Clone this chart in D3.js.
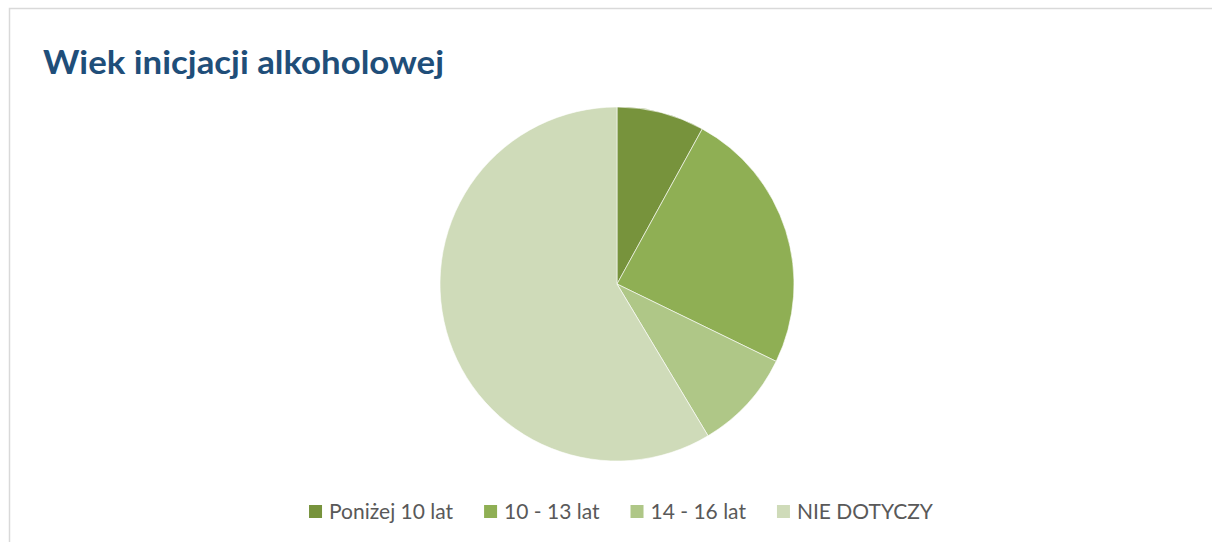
<!DOCTYPE html>
<html>
<head>
<meta charset="utf-8">
<script src="https://d3js.org/d3.v7.min.js"></script>
<style>
  body { margin: 0; background: #fff; }
  svg { display: block; }
</style>
</head>
<body>
<svg id="chart" width="1212" height="542"></svg>
<script>
// data (percent)
const categories = ["Poniżej 10 lat", "10 - 13 lat", "14 - 16 lat", "NIE DOTYCZY"];
const values = [8, 24.2, 9.2, 58.6];
const colors = ["#77933C", "#8FAF54", "#AFC787", "#CFDBB9"];
const title = "Wiek inicjacji alkoholowej";

const svg = d3.select("#chart");
const width = +svg.attr("width");
const height = +svg.attr("height");

// chart area frame (only top and left edges are inside the shot)
svg.append("path")
    .attr("d", "M9.5," + height + "V8.5H" + width)
    .attr("fill", "none")
    .attr("stroke", "#D9D9D9")
    .attr("stroke-width", 1.5);

// title
svg.append("text")
    .attr("x", 43)
    .attr("y", 74)
    .attr("fill", "#1F4E79")
    .attr("textLength", 401)
    .attr("lengthAdjust", "spacingAndGlyphs")
    .style("font-family", "Lato, 'Open Sans', sans-serif")
    .style("font-weight", "bold")
    .style("font-size", "33px")
    .text(title);

// pie
const cx = 617, cy = 284, r = 177;
const pie = d3.pie().sort(null).value(d => d);
const arc = d3.arc().innerRadius(0).outerRadius(r);

svg.append("g")
    .attr("transform", "translate(" + cx + "," + cy + ")")
    .selectAll("path")
    .data(pie(values))
    .enter().append("path")
    .attr("d", arc)
    .attr("fill", (d, i) => colors[i])
    .attr("stroke", "#fff")
    .attr("stroke-width", 0.6);

// legend
const legend = svg.append("g");
const fontSize = 21, box = 13, gapText = 7, gapItem = 31;
const items = legend.selectAll("g.item")
    .data(categories)
    .enter().append("g")
    .attr("class", "item");

items.append("rect")
    .attr("width", box)
    .attr("height", box)
    .attr("y", -box - 1)
    .attr("fill", (d, i) => colors[i]);

items.append("text")
    .attr("x", box + gapText)
    .attr("fill", "#595959")
    .style("font-family", "Lato, 'Open Sans', sans-serif")
    .style("font-size", fontSize + "px")
    .text(d => d);

let xPos = 0;
items.each(function() {
    const g = d3.select(this);
    const w = box + gapText + g.select("text").node().getComputedTextLength();
    g.attr("transform", "translate(" + xPos + ",0)");
    xPos += w + gapItem;
});
const total = xPos - gapItem;
legend.attr("transform", "translate(" + (621 - total / 2) + ",519)");
</script>
</body>
</html>
